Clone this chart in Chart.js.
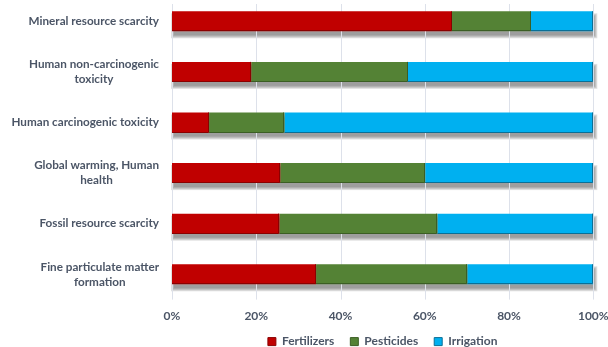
<!DOCTYPE html>
<html>
<head>
<meta charset="utf-8">
<script src="https://cdn.jsdelivr.net/npm/chart.js@4/dist/chart.umd.min.js"></script>
<style>
  html, body { margin: 0; padding: 0; background: #fff; }
  #wrap { width: 608px; height: 347px; overflow: hidden; position: relative; }
  #impactChart { position: absolute; left: 0; top: -4px; }
</style>
</head>
<body>
<div id="wrap"><canvas id="impactChart" width="608" height="351"></canvas></div>
<script>
// impact categories (each entry = lines of the label)
const categories = [
  ['Mineral resource scarcity'],
  ['Human non-carcinogenic', 'toxicity'],
  ['Human carcinogenic toxicity'],
  ['Global warming, Human', 'health'],
  ['Fossil resource scarcity'],
  ['Fine particulate matter', 'formation']
];

// share of each input, in %
const fertilizers = [66.4, 18.8, 8.8, 25.7, 25.5, 34.2];
const pesticides  = [18.8, 37.1, 17.9, 34.4, 37.5, 35.9];
const irrigation  = [14.8, 44.1, 73.3, 39.9, 37.0, 29.9];

const xTicks = [0, 20, 40, 60, 80, 100];

const textColor = '#4b5566';
const gridColor = '#dde1ea';

Chart.defaults.font.family = 'Lato, "Open Sans", sans-serif';

// soft grey shadow under each full stacked bar (layered rects fake the blur)
const barShadow = {
  id: 'barShadow',
  beforeDatasetsDraw(chart) {
    const ctx = chart.ctx;
    const metas = chart.getSortedVisibleDatasetMetas();
    ctx.save();
    ctx.fillStyle = 'rgba(60,60,60,0.16)';
    categories.forEach((c, i) => {
      const els = metas.map(m => m.data[i]);
      const left = Math.min(...els.map(e => Math.min(e.x, e.base)));
      const right = Math.max(...els.map(e => Math.max(e.x, e.base)));
      const h = els[0].height;
      const top = els[0].y - h / 2 + 4;
      for (let k = 0; k < 4; k++) {
        ctx.fillRect(left + 2 - k, top + 1 - k, right - left + 2 * k - 1, h + 2 * k - 1);
      }
    });
    ctx.restore();
  }
};

// vertical grid lines at the x ticks
const xGrid = {
  id: 'xGrid',
  beforeDatasetsDraw(chart) {
    const { ctx, chartArea, scales } = chart;
    ctx.save();
    ctx.strokeStyle = gridColor;
    ctx.lineWidth = 1;
    scales.x.ticks.forEach(t => {
      const x = Math.round(scales.x.getPixelForValue(t.value)) + 0.5;
      ctx.beginPath();
      ctx.moveTo(x, chartArea.top + 8);
      ctx.lineTo(x, chartArea.bottom);
      ctx.stroke();
    });
    ctx.restore();
  }
};

// thin darker edge on each segment's right and bottom side
const segEdges = {
  id: 'segEdges',
  afterDatasetsDraw(chart) {
    const ctx = chart.ctx;
    ctx.save();
    ctx.lineWidth = 1;
    chart.getSortedVisibleDatasetMetas().forEach(m => {
      ctx.strokeStyle = chart.data.datasets[m.index].borderColor;
      m.data.forEach(e => {
        const x1 = Math.round(e.x) - 0.5;
        const top = e.y - e.height / 2;
        const bottom = Math.round(e.y + e.height / 2) - 0.5;
        ctx.beginPath();
        ctx.moveTo(e.base, bottom);
        ctx.lineTo(x1, bottom);
        ctx.lineTo(x1, top);
        ctx.stroke();
      });
    });
    ctx.restore();
  }
};

// category labels: block right aligned, lines centred inside the block
const yLabels = {
  id: 'yLabels',
  afterDraw(chart) {
    const { ctx, chartArea, scales } = chart;
    ctx.save();
    ctx.font = 'bold 11.7px Lato, "Open Sans", sans-serif';
    ctx.fillStyle = textColor;
    ctx.textAlign = 'center';
    ctx.textBaseline = 'middle';
    const lineH = 15;
    categories.forEach((lines, i) => {
      const y = scales.y.getPixelForValue(i);
      const widest = Math.max(...lines.map(l => ctx.measureText(l).width));
      const cx = chartArea.left - 13 - widest / 2;
      const y0 = y - (lines.length - 1) * lineH / 2;
      lines.forEach((l, j) => ctx.fillText(l, cx, y0 + j * lineH));
    });
    ctx.restore();
  }
};

// legend sits centred under the plot area, just below the tick labels
const legendPlace = {
  id: 'legendPlace',
  afterLayout(chart) {
    const lg = chart.legend;
    if (!lg) return;
    const h = lg.height;
    lg.left = chart.chartArea.left;
    lg.right = chart.chartArea.right;
    lg.top = chart.chartArea.bottom + 20;
    lg.bottom = lg.top + h;
  }
};

const ctx = document.getElementById('impactChart').getContext('2d');
new Chart(ctx, {
  type: 'bar',
  data: {
    labels: categories.map(c => c.join(' ')),
    datasets: [
      {
        label: 'Fertilizers',
        data: fertilizers,
        backgroundColor: '#c00000',
        borderColor: '#8a0000'
      },
      {
        label: 'Pesticides',
        data: pesticides,
        backgroundColor: '#548235',
        borderColor: '#3b5e24'
      },
      {
        label: 'Irrigation',
        data: irrigation,
        backgroundColor: '#00b0f0',
        borderColor: '#0a6f96'
      }
    ]
  },
  options: {
    indexAxis: 'y',
    responsive: false,
    devicePixelRatio: 1,
    animation: false,
    datasets: {
      bar: {
        barThickness: 20,
        borderWidth: 0,
        borderSkipped: false,
        inflateAmount: 0
      }
    },
    layout: {
      padding: { top: 0, right: 14.7, bottom: -18.6, left: 0 }
    },
    scales: {
      x: {
        stacked: true,
        min: 0,
        max: 100,
        grid: { display: false },
        border: { display: false },
        afterBuildTicks: s => { s.ticks = xTicks.map(v => ({ value: v })); },
        // let the end labels overhang instead of shrinking the plot
        afterFit: s => { s.height = 28; s.paddingLeft = 0; s.paddingRight = 0; },
        ticks: {
          padding: 1,
          color: textColor,
          font: { size: 12, weight: 'bold' },
          callback: v => v + '%'
        }
      },
      y: {
        stacked: true,
        grid: { display: false },
        border: { display: false },
        ticks: { display: false },
        afterFit: s => { s.width = 172; }
      }
    },
    plugins: {
      legend: {
        position: 'bottom',
        labels: {
          boxWidth: 8,
          boxHeight: 8,
          padding: 16,
          color: textColor,
          font: { size: 12, weight: 'bold' },
          // outlined swatches
          generateLabels: chart => Chart.defaults.plugins.legend.labels.generateLabels(chart)
            .map(item => Object.assign(item, { lineWidth: 1 }))
        }
      },
      tooltip: { enabled: false }
    }
  },
  plugins: [barShadow, xGrid, segEdges, yLabels, legendPlace]
});
</script>
</body>
</html>
